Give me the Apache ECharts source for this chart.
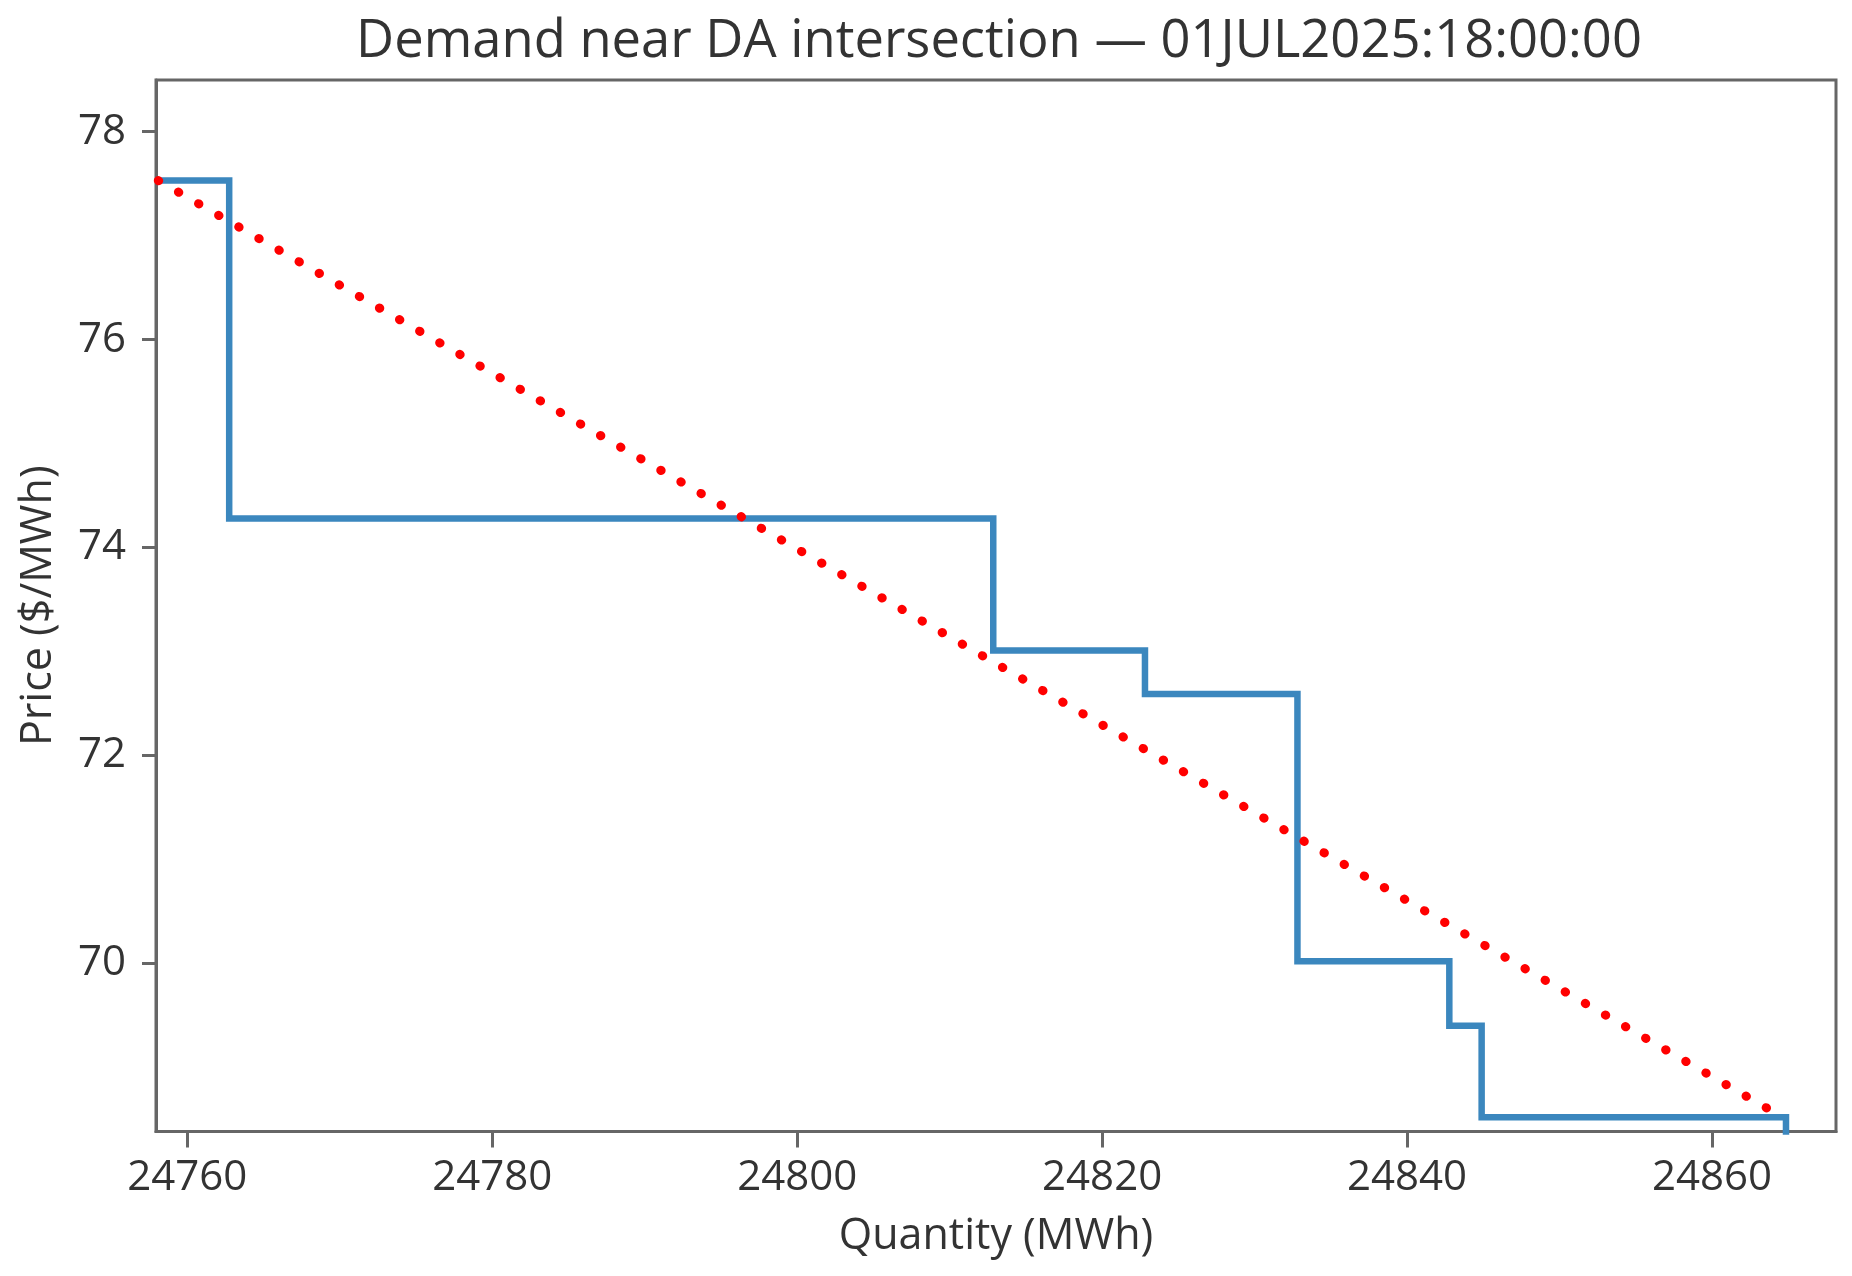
<!DOCTYPE html>
<html>
<head>
<meta charset="utf-8">
<script src="https://cdn.jsdelivr.net/npm/echarts@6/dist/echarts.min.js"></script>
<style>
html,body{margin:0;padding:0;background:#fff;}
#c{width:1852px;height:1276px;}
</style>
</head>
<body>
<div id="c"></div>
<script>
// Demand step curve (quantity breakpoints, price held until next breakpoint)
const demandQty   = [24757.9, 24762.75, 24812.86, 24822.81, 24832.81, 24842.77, 24844.89, 24864.85];
const demandPrice = [77.53, 74.28, 73.01, 72.59, 70.02, 69.40, 68.52, 68.0];
// Straight dotted reference line endpoints
const refQty   = [24758.1, 24864.8];
const refPrice = [77.53, 68.505];
// Tick labels
const xTicks = [24760, 24780, 24800, 24820, 24840, 24860];
const yTicks = [70, 72, 74, 76, 78];
const xRange = [24757.95, 24868.13];
const yRange = [68.382, 78.497];

const chart = echarts.init(document.getElementById('c'), null, {renderer: 'canvas'});
const font = '"Open Sans", "Noto Sans", sans-serif';
const textColor = '#333';
const spine = '#666';

chart.setOption({
  animation: false,
  backgroundColor: '#fff',
  title: {
    text: 'Demand near DA intersection \u2014 01JUL2025:18:00:00',
    left: 994, textAlign: 'center', top: 11,
    textStyle: {fontFamily: font, fontSize: 52.5, fontWeight: 'normal', color: textColor}
  },
  grid: {
    left: 156, top: 80, right: 16, bottom: 144.5,
    show: true, borderColor: spine, borderWidth: 3, backgroundColor: 'transparent'
  },
  xAxis: {
    type: 'value', min: xRange[0], max: xRange[1],
    name: 'Quantity (MWh)', nameLocation: 'middle', nameGap: 84,
    nameTextStyle: {fontFamily: font, fontSize: 43, color: textColor},
    axisLine: {show: true, lineStyle: {color: spine, width: 3}},
    axisTick: {show: true, length: 16, lineStyle: {color: spine, width: 3}, customValues: xTicks},
    axisLabel: {fontFamily: font, fontSize: 42, color: textColor, margin: 26, customValues: xTicks,
      formatter: v => String(Math.round(v))},
    splitLine: {show: false}
  },
  yAxis: {
    type: 'value', min: yRange[0], max: yRange[1],
    name: 'Price ($/MWh)', nameLocation: 'middle', nameGap: 96,
    nameTextStyle: {fontFamily: font, fontSize: 43, color: textColor},
    axisLine: {show: true, lineStyle: {color: spine, width: 3}},
    axisTick: {show: true, length: 14, lineStyle: {color: spine, width: 3}, customValues: yTicks},
    axisLabel: {fontFamily: font, fontSize: 42, color: textColor, margin: 30, customValues: yTicks,
      formatter: v => String(Math.round(v))},
    splitLine: {show: false}
  },
  series: [
    {
      type: 'line', step: 'end', symbol: 'none', clip: true,
      data: demandQty.map((q, i) => [q, demandPrice[i]]),
      lineStyle: {color: '#3b87be', width: 6.5, join: 'miter'},
      z: 2
    },
    {
      type: 'line', symbol: 'none', clip: true,
      data: refQty.map((q, i) => [q, refPrice[i]]),
      lineStyle: {color: '#ff0000', width: 9, type: [0.5, 22.7], cap: 'round'},
      z: 3
    }
  ]
});
</script>
</body>
</html>
